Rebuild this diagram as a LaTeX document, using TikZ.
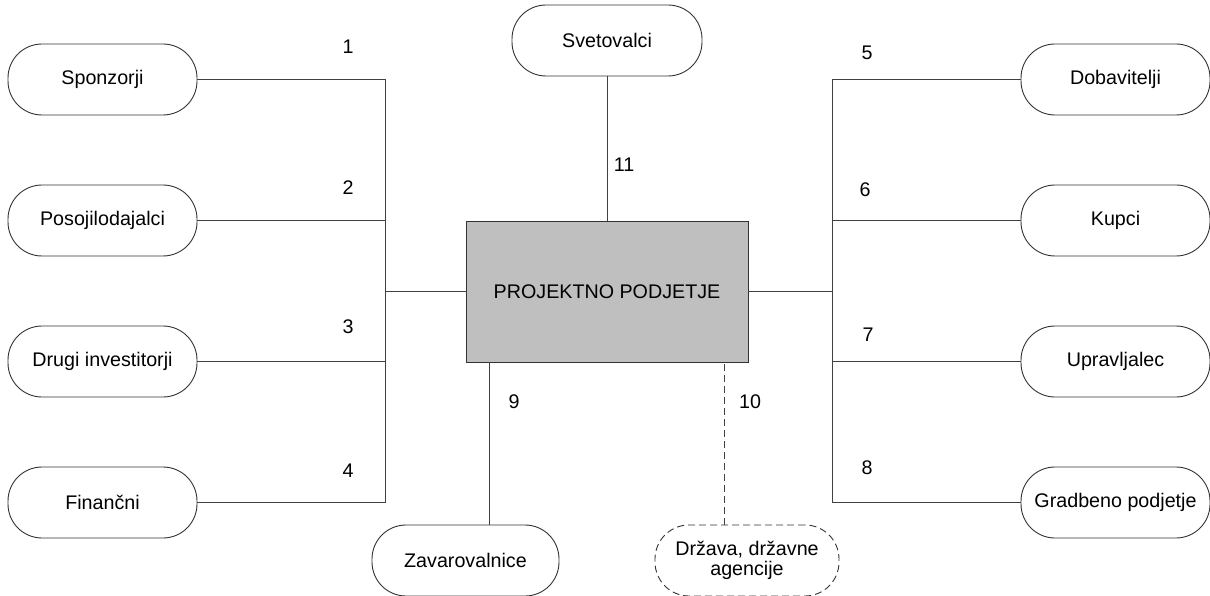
\documentclass[tikz,border=0pt]{standalone}
\usepackage{fontspec}
\setmainfont{Liberation Sans}
\begin{document}
\begin{tikzpicture}[x=1pt,y=-1pt,
  every node/.style={font=\fontsize{19.7}{23}\selectfont},
  party/.style={draw=black!80, line width=0.9pt, rounded corners=34pt, minimum width=189pt, minimum height=71pt, inner sep=0pt, align=center},
  dparty/.style={party, dash pattern=on 7pt off 4pt},
  core/.style={draw=black!80, line width=0.9pt, fill=black!25, minimum width=282pt, minimum height=141pt, inner sep=0pt},
  link/.style={draw=black!75, line width=0.9pt},
  dlink/.style={link, dash pattern=on 7pt off 4pt},
  num/.style={inner sep=0pt}]
\useasboundingbox (0,0) rectangle (1210,596);
% central box
\node[core] (pp) at (607,291.5) {PROJEKTNO PODJETJE};
% left nodes
\node[party] (spon) at (102.5,79.5) {Sponzorji};
\node[party] (poso) at (102.5,220.5) {Posojilodajalci};
\node[party] (drug) at (102.5,361.5) {Drugi investitorji};
\node[party] (fina) at (102.5,502.5) {Finančni};
% right nodes
\node[party] (doba) at (1115.5,79.5) {Dobavitelji};
\node[party] (kupc) at (1115.5,220.5) {Kupci};
\node[party] (uprv) at (1115.5,361.5) {Upravljalec};
\node[party] (grad) at (1115.5,502.5) {Gradbeno podjetje};
% top and bottom nodes
\node[party, minimum width=190pt] (svet) at (607,40.5) {Svetovalci};
\node[party, minimum width=187pt] (zava) at (465.5,560.5) {Zavarovalnice};
\node[dparty, minimum width=184pt] (drza) at (747,560.5) {Država, državne\\[-3pt]agencije};
% buses
\coordinate (lbt) at (385,79.5);
\coordinate (lbb) at (385,502.5);
\coordinate (rbt) at (832,79.5);
\coordinate (rbb) at (832,502.5);
\draw[link] (lbt) -- (lbb);
\draw[link] (rbt) -- (rbb);
% left connectors
\draw[link] (spon.east) -- (spon.east -| lbt);
\draw[link] (poso.east) -- (poso.east -| lbt);
\draw[link] (drug.east) -- (drug.east -| lbt);
\draw[link] (fina.east) -- (fina.east -| lbt);
\draw[link] (pp.west) -- (pp.west -| lbt);
% right connectors
\draw[link] (doba.west) -- (doba.west -| rbt);
\draw[link] (kupc.west) -- (kupc.west -| rbt);
\draw[link] (uprv.west) -- (uprv.west -| rbt);
\draw[link] (grad.west) -- (grad.west -| rbt);
\draw[link] (pp.east) -- (pp.east -| rbt);
% vertical connectors
\draw[link] (svet.south) -- (pp.north);
\draw[link] (zava.north -| 489,0) -- (pp.south -| 489,0);
\draw[dlink] (drza.north -| 724,0) -- (pp.south -| 724,0);
% numbers
\node[num] (n1) at (348,47) {1};
\node[num] (n2) at (348,188) {2};
\node[num] (n3) at (348,327) {3};
\node[num] (n4) at (348,471) {4};
\node[num] (n5) at (867,53) {5};
\node[num] (n6) at (865,190) {6};
\node[num] (n7) at (868,335) {7};
\node[num] (n8) at (867,468) {8};
\node[num] (n9) at (514,402) {9};
\node[num] (n10) at (750,402) {10};
\node[num] (n11) at (624,165) {11};
\end{tikzpicture}
\end{document}
